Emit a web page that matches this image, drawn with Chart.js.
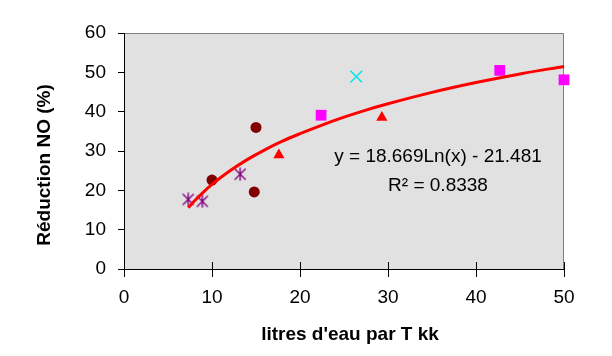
<!DOCTYPE html>
<html>
<head>
<meta charset="utf-8">
<script src="https://cdn.jsdelivr.net/npm/chart.js@4"></script>
<style>
html,body{margin:0;padding:0;background:#fff;}
#wrap{width:612px;height:356px;}
</style>
</head>
<body>
<div id="wrap"><canvas id="c" width="612" height="356"></canvas></div>
<script>
// ---- data ----
const xTickLabels = [0, 10, 20, 30, 40, 50];
const yTickLabels = [0, 10, 20, 30, 40, 50, 60];

const starX = [7.3, 8.9, 13.2];
const starY = [17.7, 17.2, 24.1];

const circleX = [10.0, 15.0, 14.8];
const circleY = [22.6, 36.0, 19.6];

const triangleX = [17.6, 29.3];
const triangleY = [29.0, 38.5];

const squareX = [22.4, 42.7, 50.0];
const squareY = [39.1, 50.5, 48.1];

const crossX = [26.4];
const crossY = [48.9];

// trend curve
const trendX = [7.3, 8, 9, 10, 12, 14, 16, 18, 20, 22.5, 25, 27.5, 30, 35, 40, 45, 50];
const trendY = [15.6, 17.3, 19.5, 21.5, 24.9, 27.8, 30.3, 32.5, 34.4, 36.6, 38.6, 40.4, 42.0, 44.9, 47.4, 49.6, 51.5];

const xTitle = "litres d'eau par T kk";
const yTitle = "Réduction NO (%)";
const eqLine1 = "y = 18.669Ln(x) - 21.481";
const eqLine2 = "R² = 0.8338";

const FONT = "'Liberation Sans', Arial, sans-serif";

function pts(xs, ys){ return xs.map((x,i)=>({x:x, y:ys[i]})); }

// asterisk marker (X plus vertical bar)
function makeStar(color){
  const c = document.createElement('canvas');
  c.width = 14; c.height = 14;
  const g = c.getContext('2d');
  g.strokeStyle = color; g.lineWidth = 1.4;
  g.beginPath();
  g.moveTo(1.5,1.5); g.lineTo(12.5,12.5);
  g.moveTo(12.5,1.5); g.lineTo(1.5,12.5);
  g.moveTo(7,0.5); g.lineTo(7,13.5);
  g.stroke();
  return c;
}

const decor = {
  id: 'decor',
  beforeDraw(chart){
    const {ctx, chartArea:a} = chart;
    ctx.save();
    ctx.fillStyle = '#e1e1e1';
    ctx.fillRect(a.left, a.top, a.right - a.left, a.bottom - a.top);
    ctx.strokeStyle = '#808080';
    ctx.lineWidth = 1;
    ctx.beginPath();
    ctx.moveTo(a.left, a.top + 0.5);
    ctx.lineTo(a.right - 0.5, a.top + 0.5);
    ctx.lineTo(a.right - 0.5, a.bottom);
    ctx.stroke();
    ctx.restore();
  },
  afterDraw(chart){
    const {ctx, chartArea:a, scales} = chart;
    ctx.save();
    // inner part of x ticks
    ctx.strokeStyle = '#000';
    ctx.lineWidth = 1;
    ctx.beginPath();
    xTickLabels.forEach(v => {
      if (v === 0) return;
      const px = Math.round(scales.x.getPixelForValue(v)) + 0.5;
      ctx.moveTo(px, a.bottom);
      ctx.lineTo(px, a.bottom - 7);
    });
    ctx.stroke();
    // axis titles
    ctx.fillStyle = '#000';
    ctx.font = 'bold 19px ' + FONT;
    ctx.textAlign = 'center';
    ctx.textBaseline = 'middle';
    ctx.fillText(xTitle, 350, 335);
    ctx.save();
    ctx.translate(45, 165);
    ctx.rotate(-Math.PI/2);
    ctx.fillText(yTitle, 0, 0);
    ctx.restore();
    // equation
    ctx.font = '19px ' + FONT;
    ctx.fillText(eqLine1, 438, 157);
    ctx.fillText(eqLine2, 438, 186);
    ctx.restore();
  }
};

new Chart(document.getElementById('c'), {
  type: 'scatter',
  data: {
    datasets: [
      {
        label: 'trend', type: 'line', data: pts(trendX, trendY),
        borderColor: '#ff0000', borderWidth: 3, pointRadius: 0,
        cubicInterpolationMode: 'monotone', fill: false, showLine: true
      },
      {
        label: 'A', data: pts(starX, starY),
        pointStyle: makeStar('#800080'), pointRadius: 7
      },
      {
        label: 'B', data: pts(circleX, circleY),
        pointStyle: 'circle', pointRadius: 5.5,
        backgroundColor: '#800000', borderColor: '#800000', borderWidth: 0
      },
      {
        label: 'C', data: pts(triangleX, triangleY),
        pointStyle: 'triangle', pointRadius: 6.5,
        backgroundColor: '#ff0000', borderColor: '#ff0000', borderWidth: 0
      },
      {
        label: 'D', data: pts(squareX, squareY),
        pointStyle: 'rect', pointRadius: 7.6,
        backgroundColor: '#ff00ff', borderColor: '#ff00ff', borderWidth: 0
      },
      {
        label: 'E', data: pts(crossX, crossY),
        pointStyle: 'crossRot', pointRadius: 8.3,
        backgroundColor: '#00ffff', borderColor: '#00e5e5', borderWidth: 1.5
      }
    ]
  },
  options: {
    responsive: false,
    animation: false,
    events: [],
    clip: false,
    layout: { padding: { top: 33, right: 48, left: 0, bottom: 0 } },
    plugins: { legend: { display: false }, tooltip: { enabled: false } },
    scales: {
      x: {
        type: 'linear', min: 0, max: 50,
        afterFit(s){ s.height = 87; },
        afterBuildTicks(s){ s.ticks = xTickLabels.map(v => ({value: v})); },
        ticks: { color: '#000', font: { family: FONT, size: 19 }, padding: 9, maxRotation: 0 },
        grid: { drawOnChartArea: false, drawTicks: true, tickLength: 8, color: '#000', lineWidth: 1 },
        border: { display: true, color: '#000', width: 1 }
      },
      y: {
        type: 'linear', min: 0, max: 60,
        afterFit(s){ s.width = 124; },
        afterBuildTicks(s){ s.ticks = yTickLabels.map(v => ({value: v})); },
        ticks: { color: '#000', font: { family: FONT, size: 19 }, padding: 12 },
        grid: { drawOnChartArea: false, drawTicks: true, tickLength: 6, color: '#000', lineWidth: 1 },
        border: { display: true, color: '#000', width: 1 }
      }
    }
  },
  plugins: [decor]
});
</script>
</body>
</html>
